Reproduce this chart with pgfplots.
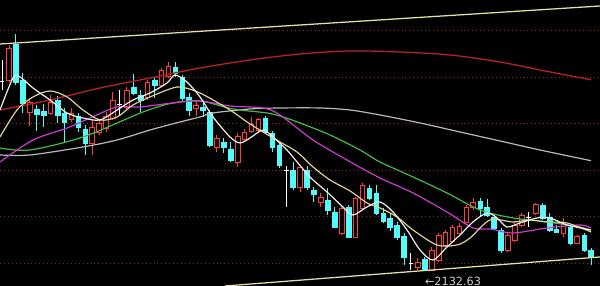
\documentclass[border=0pt]{standalone}
\usepackage{pgfplots}
\usepackage{pgfplotstable}
\pgfplotsset{compat=1.18}
\usepackage{fontspec}
\newfontfamily\labelfont{DejaVu Sans}

\definecolor{upred}{RGB}{255,62,62}
\definecolor{downcyan}{RGB}{84,250,250}
\definecolor{gridred}{RGB}{150,40,30}
\definecolor{trendline}{RGB}{228,225,165}
\definecolor{maA}{RGB}{240,240,240}
\definecolor{maB}{RGB}{222,210,150}
\definecolor{maC}{RGB}{205,60,205}
\definecolor{maD}{RGB}{70,185,70}
\definecolor{maE}{RGB}{185,185,185}
\definecolor{maF}{RGB}{185,35,35}

% daily bars: index, open, high, low, close
\pgfplotstableread{
i open high low close
0 2541.0 2586.5 2522.0 2541.0
1 2543.5 2618.8 2539.2 2612.3
2 2620.9 2642.4 2532.8 2539.2
3 2543.5 2558.6 2472.6 2494.1
4 2474.7 2504.8 2444.6 2496.2
5 2481.2 2489.8 2433.9 2470.4
6 2476.9 2491.9 2442.5 2468.3
7 2472.6 2511.3 2468.3 2496.2
8 2500.5 2509.1 2451.1 2468.3
9 2472.6 2483.3 2410.2 2453.2
10 2459.7 2483.3 2453.2 2472.6
11 2466.1 2472.6 2431.7 2442.5
12 2438.2 2446.8 2382.3 2408.1
13 2408.1 2457.5 2382.3 2442.5
14 2431.7 2457.5 2425.3 2451.1
15 2440.3 2474.7 2431.7 2466.1
16 2461.8 2517.7 2457.5 2500.5
17 2490.0 2522.0 2468.3 2490.0
18 2485.5 2528.5 2481.2 2522.0
19 2528.5 2556.4 2511.3 2515.6
20 2511.3 2522.0 2474.7 2500.5
21 2507.0 2543.5 2500.5 2539.2
22 2543.5 2550.0 2504.8 2532.8
23 2532.8 2569.3 2528.5 2565.0
24 2552.1 2582.2 2547.8 2573.6
25 2571.5 2582.2 2550.0 2558.6
26 2550.0 2554.3 2498.4 2504.8
27 2507.0 2515.6 2466.1 2479.0
28 2483.3 2500.5 2466.1 2489.8
29 2485.5 2496.2 2464.0 2479.0
30 2474.7 2479.0 2399.5 2403.8
31 2399.5 2425.3 2388.7 2418.8
32 2410.2 2418.8 2386.6 2399.5
33 2395.2 2410.2 2367.2 2371.5
34 2367.2 2429.6 2356.5 2423.1
35 2416.7 2438.2 2410.2 2431.7
36 2433.9 2464.0 2429.6 2448.9
37 2436.0 2461.8 2429.6 2459.7
38 2461.8 2466.1 2427.4 2431.7
39 2429.6 2433.9 2388.7 2399.5
40 2403.8 2408.1 2354.3 2360.8
41 2348.0 2358.6 2270.5 2348.0
42 2350.0 2367.2 2307.0 2313.5
43 2313.5 2360.8 2302.7 2356.5
44 2350.0 2358.6 2307.0 2313.5
45 2307.0 2313.5 2281.2 2298.4
46 2281.2 2300.6 2270.5 2292.0
47 2285.5 2311.3 2253.3 2264.0
48 2259.7 2270.5 2225.3 2227.5
49 2214.6 2272.6 2210.3 2268.3
50 2270.5 2274.8 2203.8 2206.0
51 2206.0 2292.0 2203.8 2289.8
52 2268.3 2322.1 2264.0 2317.8
53 2311.3 2317.8 2285.5 2289.8
54 2300.6 2317.8 2253.3 2257.6
55 2257.6 2268.3 2236.1 2240.4
56 2246.8 2257.6 2218.9 2227.5
57 2231.8 2238.2 2199.5 2206.0
58 2208.1 2214.6 2145.8 2163.0
59 2150.0 2171.6 2135.0 2150.0
60 2141.5 2160.8 2135.5 2152.2
61 2158.7 2163.0 2132.63 2137.5
62 2135.0 2184.5 2134.5 2178.0
63 2156.5 2214.6 2152.2 2210.3
64 2188.8 2221.0 2184.5 2216.7
65 2197.4 2231.8 2195.2 2227.5
66 2214.6 2236.1 2212.4 2229.6
67 2238.2 2274.8 2236.1 2270.5
68 2270.5 2289.8 2264.0 2281.2
69 2283.4 2289.8 2251.1 2268.3
70 2270.5 2287.7 2249.0 2253.3
71 2249.0 2253.3 2221.0 2225.3
72 2221.0 2225.3 2171.6 2178.0
73 2178.0 2214.6 2173.7 2210.3
74 2199.5 2238.2 2195.2 2231.8
75 2231.8 2257.6 2227.5 2253.3
76 2247.0 2259.7 2227.5 2247.0
77 2257.6 2279.1 2253.3 2276.9
78 2274.8 2279.1 2242.5 2246.8
79 2249.0 2257.6 2216.7 2221.0
80 2223.2 2231.8 2214.6 2216.7
81 2214.6 2246.8 2206.0 2238.2
82 2227.5 2231.8 2188.8 2193.1
83 2193.1 2210.3 2190.9 2208.1
84 2210.3 2214.6 2173.7 2178.0
85 2178.0 2182.3 2145.8 2163.0
}\kdata

\begin{document}
\begin{tikzpicture}
\begin{axis}[
  width=15cm, height=7.15cm, scale only axis,
  xmin=-0.29, xmax=86.29,
  ymin=2100.6, ymax=2715.5,
  axis background/.style={fill=black},
  axis line style={draw=none},
  xtick=\empty,
  ytick={2150,2250,2350,2450,2550,2650},
  yticklabel=\empty,
  major tick length=0pt,
  ymajorgrids,
  grid style={gridred, line width=0.6pt, dash pattern=on 0.6pt off 2.2pt},
  clip=true,
]
% candles
\pgfplotstablegetrowsof{\kdata}
\pgfmathtruncatemacro\lastrow{\pgfplotsretval-1}
\pgfplotsforeachungrouped \r in {0,...,\lastrow}{%
  \pgfplotstablegetelem{\r}{i}\of\kdata \let\ci\pgfplotsretval
  \pgfplotstablegetelem{\r}{open}\of\kdata \let\co\pgfplotsretval
  \pgfplotstablegetelem{\r}{high}\of\kdata \let\ch\pgfplotsretval
  \pgfplotstablegetelem{\r}{low}\of\kdata \let\cl\pgfplotsretval
  \pgfplotstablegetelem{\r}{close}\of\kdata \let\cc\pgfplotsretval
  \pgfmathsetmacro\xa{\ci-0.34}%
  \pgfmathsetmacro\xb{\ci+0.34}%
  \pgfmathtruncatemacro\kind{ifthenelse(\cc>\co,1,ifthenelse(\cc<\co,2,0))}%
  \ifcase\kind
    \edef\next{%
      \noexpand\addplot[white, line width=0.6pt] coordinates {(\ci,\cl) (\ci,\ch)};
      \noexpand\addplot[white, line width=0.6pt] coordinates {(\xa,\co) (\xb,\co)};}%
  \or
    \edef\next{%
      \noexpand\addplot[upred, line width=0.6pt] coordinates {(\ci,\cl) (\ci,\ch)};
      \noexpand\addplot[draw=upred, fill=black, line width=0.6pt] coordinates {(\xa,\co) (\xb,\co) (\xb,\cc) (\xa,\cc)} -- cycle;}%
  \or
    \edef\next{%
      \noexpand\addplot[downcyan, line width=0.6pt] coordinates {(\ci,\cl) (\ci,\ch)};
      \noexpand\addplot[draw=downcyan, fill=downcyan, line width=0.4pt] coordinates {(\xa,\co) (\xb,\co) (\xb,\cc) (\xa,\cc)} -- cycle;}%
  \fi
  \next
}

% trend channel
\addplot[trendline, line width=0.9pt] coordinates {(-0.29,2620.9) (86.29,2702.6)};
\addplot[trendline, line width=0.9pt] coordinates {(32.18,2100.6) (86.29,2163.0)};

% long moving average
\addplot[maF, line width=0.9pt, smooth] coordinates {
(-0.29,2479.0) (6.93,2500.5) (14.14,2526.3) (21.36,2547.8) (28.57,2569.3)
(35.79,2586.5) (43.0,2599.4) (50.22,2605.9) (57.43,2603.7) (64.64,2597.3)
(71.86,2582.2) (79.08,2560.7) (85,2544.0)};

% MA60
\addplot[maE, line width=0.85pt, smooth] coordinates {
(-0.29,2382.3) (4.04,2382.3) (11.69,2399.5) (16.6,2414.5) (21.36,2436.0)
(25.68,2453.2) (28.57,2464.0) (30.45,2472.6) (35.79,2481.2) (40.11,2483.3)
(45.89,2483.3) (50.22,2479.0) (54.54,2468.3) (60.32,2451.1) (66.09,2431.7)
(71.86,2412.4) (77.63,2393.0) (85,2370.0)};

% MA30
\addplot[maD, line width=0.85pt, smooth] coordinates {
(-0.29,2397.3) (4.04,2393.0) (11.69,2421.0) (20.35,2474.7) (24.67,2494.1)
(28.57,2498.4) (33.33,2481.2) (38.24,2472.6) (40.55,2464.0) (43.0,2451.1)
(47.33,2425.3) (51.66,2393.0) (54.54,2367.2) (59.31,2335.0) (64.21,2300.6)
(68.97,2264.0) (73.74,2246.8) (78.64,2238.2) (83.4,2227.5) (85,2220.0)};

% MA20
\addplot[maC, line width=0.85pt, smooth] coordinates {
(-0.29,2367.2) (4.47,2414.5) (9.38,2440.3) (12.70,2461.8) (16.6,2485.5)
(19.91,2485.5) (24.67,2494.1) (28.57,2498.4) (32.9,2487.6) (37.66,2483.3)
(40.11,2468.3) (44.88,2414.5) (49.78,2371.5) (54.54,2332.8) (59.31,2300.6)
(64.21,2259.7) (67.96,2225.3) (70.42,2223.2) (73.74,2214.6) (78.64,2225.3)
(83.4,2231.8) (85,2225.3)};

% MA10
\addplot[maB, line width=0.85pt, smooth] coordinates {
(-0.29,2421.0) (2.16,2479.0) (4.47,2507.0) (6.93,2519.9) (9.38,2507.0)
(11.69,2479.0) (14.14,2457.5) (16.6,2464.0) (18.9,2489.8) (21.36,2507.0)
(23.81,2522.0) (25.68,2528.5) (28.57,2515.6) (32.9,2479.0) (35.35,2453.2)
(37.66,2431.7) (40.11,2410.2) (42.57,2388.7) (44.88,2356.5) (47.33,2328.5)
(50.22,2304.9) (52.67,2279.1) (54.54,2268.3) (57.0,2249.0) (59.31,2221.0)
(62.77,2188.8) (65.66,2188.8) (67.53,2203.8) (70.42,2242.5) (73.74,2238.2)
(76.19,2242.5) (78.64,2238.2) (81.53,2236.1) (85,2216.7)};

% MA5
\addplot[maA, line width=0.85pt, smooth] coordinates {
(-0.29,2479.0) (1.59,2547.8) (2.6,2550.0) (4.47,2526.3) (6.93,2500.5)
(9.38,2472.6) (11.69,2461.8) (14.14,2457.5) (16.6,2479.0) (18.9,2500.5)
(21.36,2515.6) (23.81,2537.1) (24.96,2554.3) (26.69,2539.2) (28.57,2507.0)
(30.45,2464.0) (32.9,2421.0) (34.34,2408.1) (35.79,2418.8) (37.66,2436.0)
(39.1,2421.0) (41.12,2393.0) (41.99,2377.9) (44.44,2335.0) (46.9,2302.7)
(49.21,2270.5) (50.65,2253.3) (52.67,2270.5) (54.54,2281.2) (56.42,2259.7)
(58.44,2221.0) (60.32,2178.0) (62.19,2156.5) (64.21,2184.5) (66.09,2210.3)
(67.96,2238.2) (69.98,2257.6) (71.43,2246.8) (72.87,2227.5) (74.75,2236.1)
(77.2,2246.8) (79.08,2246.8) (81.53,2231.8) (85,2221.0)};

% lowest low marker
\node[anchor=west, inner sep=0pt, yshift=-7pt, text={rgb,255:red,205;green,205;blue,205},
      font=\labelfont\fontsize{8}{9}\selectfont] at (axis cs:61,2132.63) {←2132.63};
\end{axis}
\pgfresetboundingbox
\path[use as bounding box] (current axis.south west) rectangle (current axis.north east);
\end{tikzpicture}
\end{document}
